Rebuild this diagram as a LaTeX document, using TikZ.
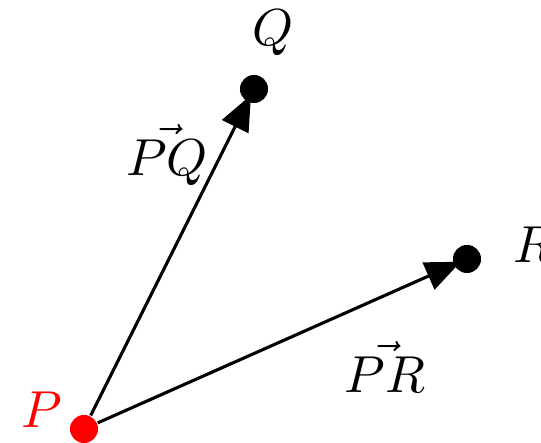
\documentclass[tikz,border=0pt]{standalone}
\usepackage{amsmath}
\usetikzlibrary{arrows.meta, positioning}
\tikzset{
  pnt/.style ={circle, fill=black, inner sep=0pt, minimum size=5.4pt},
  lbl/.style ={inner sep=1pt},
  vec/.style ={-{Triangle[length=6.8pt, width=5.6pt]}, line width=0.6pt, shorten >=-1.6pt}
}
\begin{document}
\begin{tikzpicture}[x=0.1923pt, y=-0.1923pt]
  \useasboundingbox (0,0) rectangle (541,443);
  \node[pnt, fill=red] (P) at (84,429) {};
  \node[pnt] (Q) at (254,89) {};
  \node[pnt] (R) at (467,259) {};
  \node[lbl, text=red] (Plbl) at (42,410) {$P$};
  \node[lbl] (Qlbl) at (273,33) {$Q$};
  \node[lbl] (Rlbl) at (533,245) {$R$};
  \draw[vec] (P) -- (Q);
  \draw[vec] (P) -- (R);
  \node[lbl] (PQlbl) at (167,155) {$\vec{PQ}$};
  \node[lbl] (PRlbl) at (385,367) {$\vec{PR}$};
\end{tikzpicture}
\end{document}
